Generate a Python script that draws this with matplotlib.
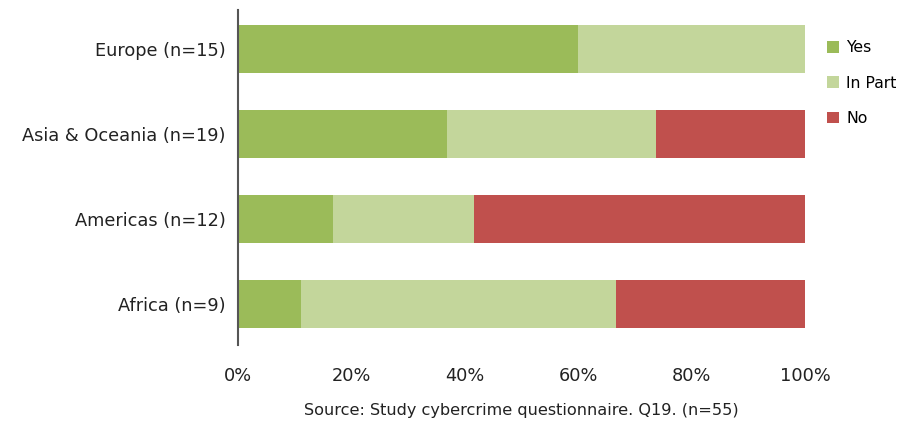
import matplotlib
matplotlib.use("Agg")
import matplotlib.pyplot as plt
from matplotlib.patches import Patch

categories = ["Europe (n=15)", "Asia & Oceania (n=19)", "Americas (n=12)", "Africa (n=9)"]
yes = [9/15, 7/19, 2/12, 1/9]
in_part = [6/15, 7/19, 3/12, 5/9]
no = [0/15, 5/19, 7/12, 3/9]
series_names = ["Yes", "In Part", "No"]
colors = ["#9BBB59", "#C3D69B", "#C0504D"]
xticks = [0, 0.2, 0.4, 0.6, 0.8, 1.0]
xticklabels = ["0%", "20%", "40%", "60%", "80%", "100%"]
source = "Source: Study cybercrime questionnaire. Q19. (n=55)"

plt.rcParams['font.family'] = ['DejaVu Sans']

fig = plt.figure(figsize=(9.02, 4.21), dpi=100)
ax = fig.add_axes([238/902, 1 - 345/421, (805-238)/902, (345-10)/421])

n = len(categories)
ypos = list(range(n - 1, -1, -1))
left = [0.0] * n
for vals, name, c in zip([yes, in_part, no], series_names, colors):
    ax.barh(ypos, vals, left=left, height=0.565, color=c, label=name, edgecolor='none')
    left = [l + v for l, v in zip(left, vals)]

ax.set_xlim(0, 1)
ax.set_ylim(-0.48, n - 1 + 0.46)
ax.set_yticks(ypos)
ax.set_yticklabels(categories, fontsize=12.8)
ax.set_xticks(xticks)
ax.set_xticklabels(xticklabels, fontsize=12.8)
ax.tick_params(axis='x', length=0, pad=16, colors='#222222')
ax.tick_params(axis='y', length=0, pad=9, colors='#222222')
for s in ['top', 'right', 'bottom']:
    ax.spines[s].set_visible(False)
ax.spines['left'].set_color('#555555')
ax.spines['left'].set_linewidth(1.5)

handles = [Patch(facecolor=c, edgecolor='none') for c in colors]
fig.legend(handles, series_names, loc='upper left', bbox_to_anchor=(821/902, 1 - 34/421),
           frameon=False, fontsize=11.3, handlelength=0.75, handleheight=0.75,
           handletextpad=0.45, labelspacing=1.3, borderaxespad=0)

fig.text(521/902, 1 - 410/421, source, ha='center', va='center', fontsize=11.6, color='#222222')

fig.savefig("out.png", dpi=100)
